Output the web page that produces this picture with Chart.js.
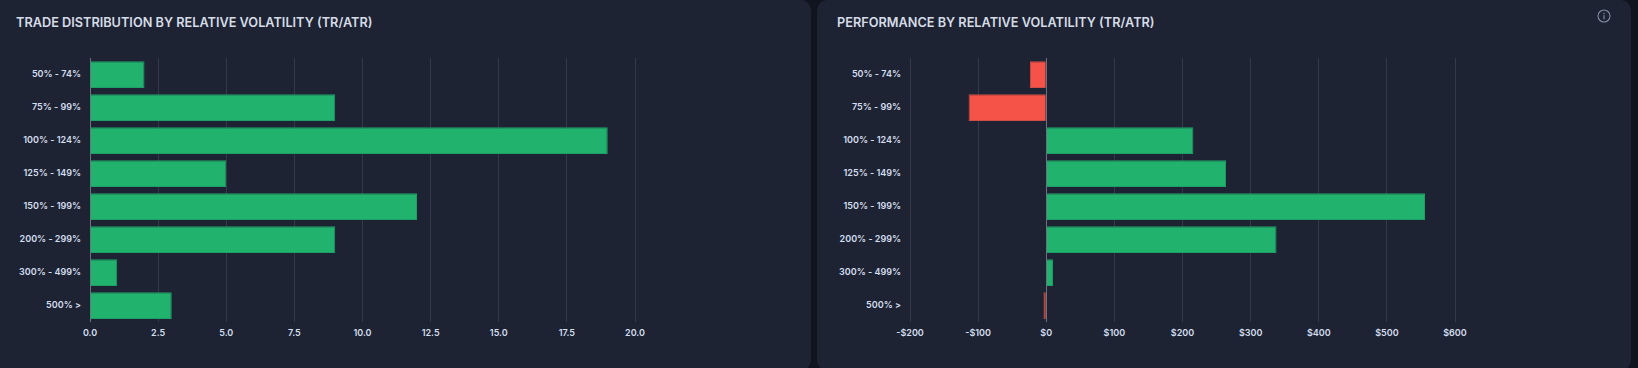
<!DOCTYPE html>
<html>
<head>
<meta charset="utf-8">
<title>Relative volatility</title>
<script src="https://cdn.jsdelivr.net/npm/chart.js@4"></script>
<style>
    html, body { margin: 0; padding: 0; background: #10141f; overflow: hidden; }
    body { width: 1638px; height: 368px; position: relative; font-family: Inter, sans-serif; }
    .card { position: absolute; top: 0; height: 370px; background: #1e2333; border-radius: 10px; }
    #card1 { left: -10px; width: 821px; }
    #card2 { left: 817px; width: 814px; }
    h2 { position: absolute; margin: 0; font-size: 12.72px; line-height: 16px; font-weight: 600; color: #d5dce6; white-space: nowrap; }
    #title1 { left: 16px; top: 15px; }
    #title2 { left: 837px; top: 15px; }
    canvas { position: absolute; top: 40px; }
    #chart1 { left: 0; }
    #chart2 { left: 817px; }
    #info { position: absolute; left: 1597px; top: 9px; }
</style>
</head>
<body>
<div class="card" id="card1"></div>
<div class="card" id="card2"></div>
<h2 id="title1">TRADE DISTRIBUTION BY RELATIVE VOLATILITY (TR/ATR)</h2>
<h2 id="title2">PERFORMANCE BY RELATIVE VOLATILITY (TR/ATR)</h2>
<svg id="info" width="14" height="14" viewBox="0 0 14 14">
    <circle cx="7" cy="7" r="6" fill="none" stroke="#7f8ca3" stroke-width="1.1"/>
    <rect x="6.4" y="6.2" width="1.2" height="4" fill="#7f8ca3"/>
    <rect x="6.4" y="3.8" width="1.2" height="1.3" fill="#7f8ca3"/>
</svg>
<canvas id="chart1" width="660" height="305"></canvas>
<canvas id="chart2" width="660" height="305"></canvas>
<script>
const categories = ['50% - 74%', '75% - 99%', '100% - 124%', '125% - 149%', '150% - 199%', '200% - 299%', '300% - 499%', '500% >'];
const tradeCounts = [2, 9, 19, 5, 12, 9, 1, 3];
const performance = [-24, -114, 216, 264, 556, 338, 10, -4];

const CARD = '#1e2333';
const GREEN = '#21b26e';
const GREEN_EDGE = '#1e9f68';
const RED = '#f55347';
const RED_EDGE = '#d04c44';
const TICK = '#d3deee';
const GRID = 'rgba(255,255,255,0.1)';
const ZERO = '#6b7280';

// opaque canvas so the labels get the same text smoothing as the page
const cardFill = {
    id: 'cardFill',
    beforeDraw(chart) {
        chart.ctx.fillStyle = CARD;
        chart.ctx.fillRect(0, 0, chart.width, chart.height);
    }
};

function makeChart(id, values, axisLeft, rightPad, xMin, xMax, step, fmt) {
    const canvas = document.getElementById(id);
    canvas.getContext('2d', { alpha: false });
    new Chart(canvas, {
        type: 'bar',
        plugins: [cardFill],
        data: {
            labels: categories,
            datasets: [{
                data: values,
                backgroundColor: values.map(v => v < 0 ? RED : GREEN),
                borderColor: values.map(v => v < 0 ? RED_EDGE : GREEN_EDGE),
                borderWidth: 1,
                barPercentage: 0.9,
                categoryPercentage: 0.9
            }]
        },
        options: {
            indexAxis: 'y',
            responsive: false,
            animation: false,
            layout: { padding: { top: 18, right: rightPad, bottom: 0, left: 0 } },
            plugins: { legend: { display: false }, tooltip: { enabled: false } },
            scales: {
                x: {
                    min: xMin,
                    max: xMax,
                    ticks: {
                        stepSize: step,
                        color: TICK,
                        font: { family: 'Inter', size: 9, weight: '600' },
                        maxRotation: 0,
                        padding: 6,
                        callback: fmt
                    },
                    grid: {
                        drawTicks: false,
                        color: c => c.tick && c.tick.value === 0 ? ZERO : GRID
                    },
                    border: { display: false }
                },
                y: {
                    afterFit: axis => { axis.width = axisLeft; },
                    ticks: {
                        color: TICK,
                        font: { family: 'Inter', size: 9, weight: '600' },
                        padding: 9
                    },
                    grid: { display: false, drawTicks: false },
                    border: { display: false }
                }
            }
        }
    });
}

makeChart('chart1', tradeCounts, 90, 25, 0, 20, 2.5, v => v.toFixed(1));
makeChart('chart2', performance, 93, 22, -200, 600, 100, v => (v < 0 ? '-$' : '$') + Math.abs(v));
</script>
</body>
</html>
